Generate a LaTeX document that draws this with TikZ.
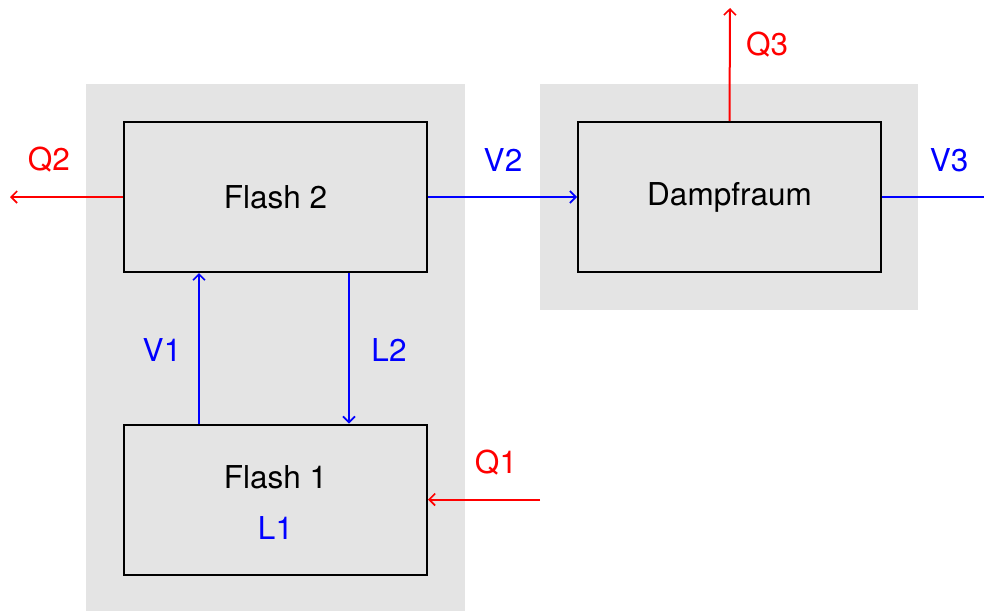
\documentclass[tikz,border=0pt]{standalone}
\usepackage{fontspec}
\setmainfont{TeX Gyre Heros}
\usetikzlibrary{arrows.meta}
\definecolor{bggray}{HTML}{E4E4E4}
\begin{document}
\begin{tikzpicture}[x=1pt,y=-1pt,
  every node/.style={font=\fontsize{31.5}{38}\selectfont},
  blockbox/.style={draw=black,line width=2pt,fill=bggray,minimum width=303pt,minimum height=150pt,inner sep=0pt},
  flow/.style={line width=2pt,-{Straight Barb[length=6pt,width=12pt,line width=1.6pt]}},
  blueflow/.style={flow,draw=blue},
  redflow/.style={flow,draw=red},
  bluelbl/.style={text=blue},
  redlbl/.style={text=red}]
\clip (0,0) rectangle (984,610);
\useasboundingbox (0,0) rectangle (984,610);
\fill[bggray] (86,84) rectangle (465,612);
\fill[bggray] (540,84) rectangle (918,310);
\node[blockbox] (f2) at (275.5,197) {Flash 2};
\node[blockbox] (f1) at (275.5,499.5) {};
\node (f1t) at (275.5,477) {Flash 1};
\node[bluelbl] (l1) at (275.5,528) {L1};
\node[blockbox] (dr) at (729.5,197) {Dampfraum};
\coordinate (q2end) at (10,197);
\coordinate (q1start) at (540,499.5);
\coordinate (q3end) at (730,8);
\coordinate (v3end) at (990,197);
\draw[blueflow] ([xshift=76pt]f1.north west) -- ([xshift=76pt]f2.south west);
\draw[blueflow] ([xshift=226pt]f2.south west) -- ([xshift=226pt]f1.north west);
\draw[blueflow] (f2.east) -- (dr.west);
\draw[blue,line width=2pt] (dr.east) -- (v3end);
\draw[redflow] (f2.west) -- (q2end);
\draw[redflow] (q1start) -- (f1.east);
\draw[redflow] (dr.north) -- (q3end);
\node[redlbl] (q2) at (49,160) {Q2};
\node[bluelbl] (v2) at (503,160) {V2};
\node[bluelbl] (v3) at (949,160) {V3};
\node[redlbl] (q3) at (767,45) {Q3};
\node[bluelbl] (v1) at (162,350) {V1};
\node[bluelbl] (l2) at (389,350) {L2};
\node[redlbl] (q1) at (496,463) {Q1};
\end{tikzpicture}
\end{document}
